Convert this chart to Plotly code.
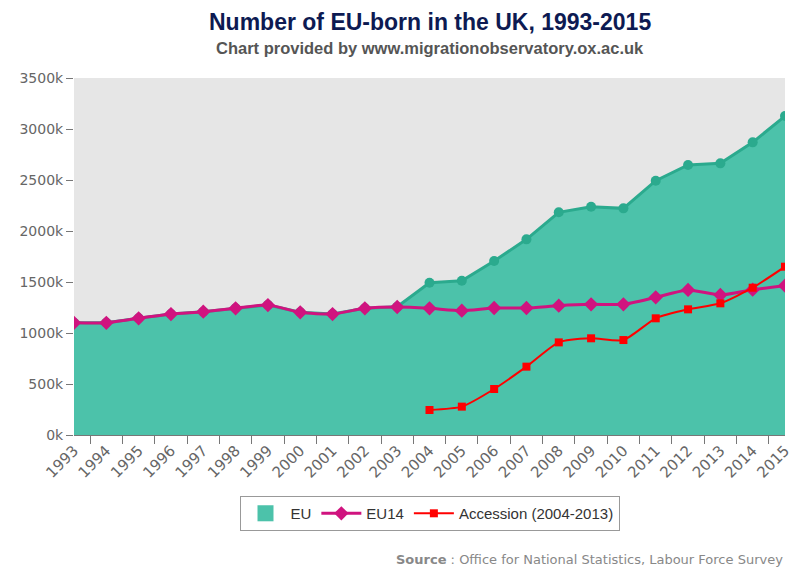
import plotly.graph_objects as go

years = [str(y) for y in range(1993, 2016)]
eu = [1100, 1100, 1144, 1186, 1209, 1242, 1274, 1203, 1186, 1242, 1258,
      1493, 1513, 1706, 1918, 2183, 2238, 2222, 2493, 2647, 2663, 2869, 3127]
eu14 = [1100, 1100, 1144, 1186, 1209, 1242, 1274, 1203, 1186, 1242, 1255,
        1242, 1219, 1245, 1245, 1268, 1281, 1281, 1350, 1422, 1373, 1425, 1464]
acc_years = [str(y) for y in range(2004, 2016)]
accession = [245, 278, 451, 670, 908, 948, 931, 1144, 1232, 1291, 1444, 1650]

TEAL_FILL = "#4CC2AA"
TEAL_LINE = "#2BAA8E"
PINK = "#D0137F"
RED = "#FF0000"

fig = go.Figure()
fig.add_trace(go.Scatter(
    x=years, y=eu, name="EU", mode="lines+markers", fill="tozeroy",
    fillcolor=TEAL_FILL, line=dict(color=TEAL_LINE, width=3),
    marker=dict(symbol="circle", size=10, color=TEAL_LINE), showlegend=False))
fig.add_trace(go.Scatter(
    x=[None], y=[None], name="EU", mode="markers",
    marker=dict(symbol="square", size=18, color=TEAL_FILL)))
fig.add_trace(go.Scatter(
    x=years, y=eu14, name="EU14", mode="lines+markers",
    line=dict(color=PINK, width=3, shape="spline", smoothing=0.6),
    marker=dict(symbol="diamond", size=11, color=PINK)))
fig.add_trace(go.Scatter(
    x=acc_years, y=accession, name="Accession (2004-2013)", mode="lines+markers",
    line=dict(color=RED, width=2, shape="spline", smoothing=0.6),
    marker=dict(symbol="square", size=8, color=RED)))

fig.update_layout(
    width=800, height=571,
    margin=dict(l=66, r=23, t=70, b=144),
    paper_bgcolor="white", plot_bgcolor="#E6E6E6",
    font=dict(family="DejaVu Sans", color="#666666", size=14),
    xaxis=dict(type="category", range=[0, 22], tickson="boundaries",
               ticks="outside", ticklen=8, tickcolor="#777777",
               tickangle=-45, showgrid=False, showline=True, automargin=False,
               linecolor="#777777", linewidth=1,
               tickfont=dict(size=15, color="#666666")),
    yaxis=dict(range=[0, 3500], dtick=500, ticksuffix="k", showgrid=False,
               zeroline=False, ticks="outside", ticklen=7, tickcolor="#777777",
               automargin=False,
               tickfont=dict(size=14, color="#666666")),
    legend=dict(orientation="h", x=0.5, xanchor="center", y=-0.171, yanchor="top",
                bordercolor="#999999", borderwidth=1, bgcolor="white",
                font=dict(family="Liberation Sans", size=15, color="#333333"),
                itemwidth=40),
    annotations=[
        dict(text="<b>Number of EU-born in the UK, 1993-2015</b>", xref="paper", yref="paper",
             x=0.5, y=1, yshift=56, xanchor="center", yanchor="middle", showarrow=False,
             font=dict(family="Liberation Sans", size=23, color="#0D1A52")),
        dict(text="<b>Chart provided by www.migrationobservatory.ox.ac.uk</b>", xref="paper", yref="paper",
             x=0.5, y=1, yshift=30, xanchor="center", yanchor="middle", showarrow=False,
             font=dict(family="Liberation Sans", size=16.5, color="#555555")),
        dict(text="<b>Source</b> : Office for National Statistics, Labour Force Survey",
             xref="paper", yref="paper", x=1, y=0, yshift=-124, xanchor="right",
             yanchor="middle", showarrow=False,
             font=dict(family="DejaVu Sans", size=13, color="#888888")),
    ],
)

fig.write_html("out.html")
